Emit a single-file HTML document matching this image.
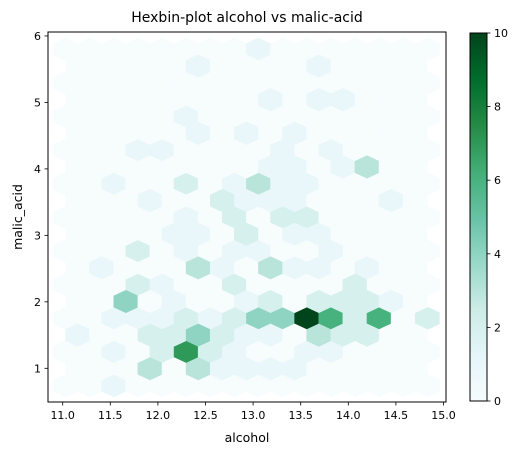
<!DOCTYPE html>
<html><head><meta charset="utf-8"><style>
body{margin:0;background:#fff;}
svg text{font-family:"DejaVu Sans","Liberation Sans",sans-serif;fill:#000;}
</style></head><body>
<svg id="chart" width="525" height="455" viewBox="0 0 525 455" xmlns="http://www.w3.org/2000/svg">
<defs>
<clipPath id="axclip"><rect x="48" y="32" width="398" height="370"/></clipPath>
<linearGradient id="cbgrad" x1="0" y1="1" x2="0" y2="0">
<stop offset="0" stop-color="#f7fcfd"/><stop offset="0.125" stop-color="#e5f5f9"/><stop offset="0.25" stop-color="#ccece6"/><stop offset="0.375" stop-color="#99d8c9"/><stop offset="0.5" stop-color="#66c2a4"/><stop offset="0.625" stop-color="#41ae76"/><stop offset="0.75" stop-color="#238b45"/><stop offset="0.875" stop-color="#006d2c"/><stop offset="1" stop-color="#00441b"/>
</linearGradient>
</defs>
<text x="247" y="22" font-size="14" text-anchor="middle">Hexbin-plot alcohol vs malic-acid</text>
<g id="hexes" clip-path="url(#axclip)"></g>
<rect x="48" y="32" width="398" height="370" fill="none" stroke="#000" stroke-width="1"/>
<g id="xaxis"></g>
<g id="yaxis"></g>
<text x="247" y="442" font-size="12.5" text-anchor="middle">alcohol</text>
<text x="0" y="0" font-size="12.5" text-anchor="middle" transform="translate(22,217) rotate(-90)">malic_acid</text>
<rect x="470" y="33" width="17" height="368" fill="url(#cbgrad)" stroke="#000" stroke-width="1"/>
<g id="cbaxis"></g>
</svg>
<script>
const xTicks = [11.0, 11.5, 12.0, 12.5, 13.0, 13.5, 14.0, 14.5, 15.0];
const xTickLabels = ["11.0","11.5","12.0","12.5","13.0","13.5","14.0","14.5","15.0"];
const yTicks = [1, 2, 3, 4, 5, 6];
const yTickLabels = ["1","2","3","4","5","6"];
const cbTicks = [0, 2, 4, 6, 8, 10];
const gridExtent = [11.03, 14.83, 0.74, 5.80];
const gridSize = [15, 10];
// [col, row, count] for the main lattice
const lattice1Counts = [
 [8,10,1],[5,8,1],[3,7,1],[4,7,1],[9,7,1],[11,7,1],
 [2,6,1],[5,6,2],[7,6,1],[8,6,3],[9,6,1],[10,6,1],
 [5,5,1],[7,5,2],[9,5,2],[10,5,2],
 [3,4,2],[5,4,1],[7,4,1],[8,4,1],[11,4,1],
 [3,3,2],[4,3,1],[7,3,2],[12,3,2],
 [2,2,1],[3,2,1],[4,2,1],[5,2,2],[6,2,1],[7,2,2],[8,2,4],[9,2,4],[10,2,10],[11,2,6],[12,2,2],[13,2,6],[15,2,2],
 [2,1,1],[4,1,2],[5,1,7],[6,1,2],[7,1,1],[10,1,1],[11,1,1],
 [2,0,1]
];
// [col, row, count] for the offset lattice
const lattice2Counts = [
 [5,9,1],[10,9,1],[8,8,1],[10,8,1],[11,8,1],
 [5,7,1],[7,7,1],[9,7,1],
 [8,6,1],[9,6,1],[11,6,1],[12,6,3],
 [3,5,1],[6,5,2],[7,5,1],[8,5,1],[9,5,1],[13,5,1],
 [4,4,1],[5,4,1],[7,4,2],[9,4,1],[10,4,1],
 [1,3,1],[5,3,3],[6,3,1],[8,3,3],[9,3,1],[10,3,1],[12,3,1],
 [2,2,4],[4,2,1],[7,2,1],[8,2,2],[10,2,2],[11,2,2],[12,2,2],[13,2,1],
 [0,1,1],[3,1,2],[4,1,2],[5,1,4],[6,1,2],[7,1,1],[8,1,1],[10,1,3],[11,1,2],[12,1,2],
 [3,0,3],[5,0,3],[6,0,1],[7,0,1],[8,0,1],[9,0,1]
];
const NS='http://www.w3.org/2000/svg';
function X(v){return 62.7+(v-11)*95.2;}
function Y(v){return 368.3-(v-1)*66.47;}
const stops=[[247,252,253],[229,245,249],[204,236,230],[153,216,201],[102,194,164],[65,174,118],[35,139,69],[0,109,44],[0,68,27]];
function cmap(c){let t=Math.max(0,Math.min(1,c/10))*8;let i=Math.min(7,Math.floor(t));let f=t-i;
 const a=stops[i],b=stops[i+1];return 'rgb('+a.map((v,k)=>Math.round(v+(b[k]-v)*f)).join(',')+')';}
function mk(tag,attrs,parent){const e=document.createElementNS(NS,tag);for(const k in attrs)e.setAttribute(k,attrs[k]);parent.appendChild(e);return e;}
const [xmin,xmax,ymin,ymax]=gridExtent;const [nx,ny]=gridSize;
const sx=(xmax-xmin)/nx, sy=(ymax-ymin)/ny;
const hexG=document.getElementById('hexes');
function drawHex(cx,cy,count,name){
 const off=[[.5,-.5],[.5,.5],[0,1],[-.5,.5],[-.5,-.5],[0,-1]];
 const pts=off.map(o=>X(cx+o[0]*sx).toFixed(2)+','+Y(cy+o[1]*sy/3).toFixed(2)).join(' ');
 const col=cmap(count);
 const p=mk('polygon',{points:pts,fill:col,stroke:col,'stroke-width':0.6},hexG);
 
 
}
function lookup(arr,i,j){for(const c of arr){if(c[0]===i&&c[1]===j)return c[2];}return 0;}
for(let j=0;j<=ny;j++)for(let i=0;i<=nx;i++)drawHex(xmin+i*sx,ymin+j*sy,lookup(lattice1Counts,i,j),'hex-cell');
for(let j=0;j<ny;j++)for(let i=0;i<nx;i++)drawHex(xmin+(i+.5)*sx,ymin+(j+.5)*sy,lookup(lattice2Counts,i,j),'hex-cell');
const xa=document.getElementById('xaxis');
xTicks.forEach((v,k)=>{const x=X(v);
 const l=mk('line',{x1:x,x2:x,y1:402,y2:405.5,stroke:'#000','stroke-width':0.8},xa);
 
 
 const t=mk('text',{x:x,y:419,'font-size':11,'text-anchor':'middle'},xa);t.textContent=xTickLabels[k];
 
 
});
const ya=document.getElementById('yaxis');
yTicks.forEach((v,k)=>{const y=Y(v);
 const l=mk('line',{x1:44.5,x2:48,y1:y,y2:y,stroke:'#000','stroke-width':0.8},ya);
 
 
 const t=mk('text',{x:41,y:y+4,'font-size':11,'text-anchor':'end'},ya);t.textContent=yTickLabels[k];
 
 
});
const ca=document.getElementById('cbaxis');
cbTicks.forEach(v=>{const y=401-v/10*368;
 const l=mk('line',{x1:487,x2:490.5,y1:y,y2:y,stroke:'#000','stroke-width':0.8},ca);
 
 
 const t=mk('text',{x:494,y:y+4,'font-size':11},ca);t.textContent=String(v);
 
 
});
</script>
</body></html>
